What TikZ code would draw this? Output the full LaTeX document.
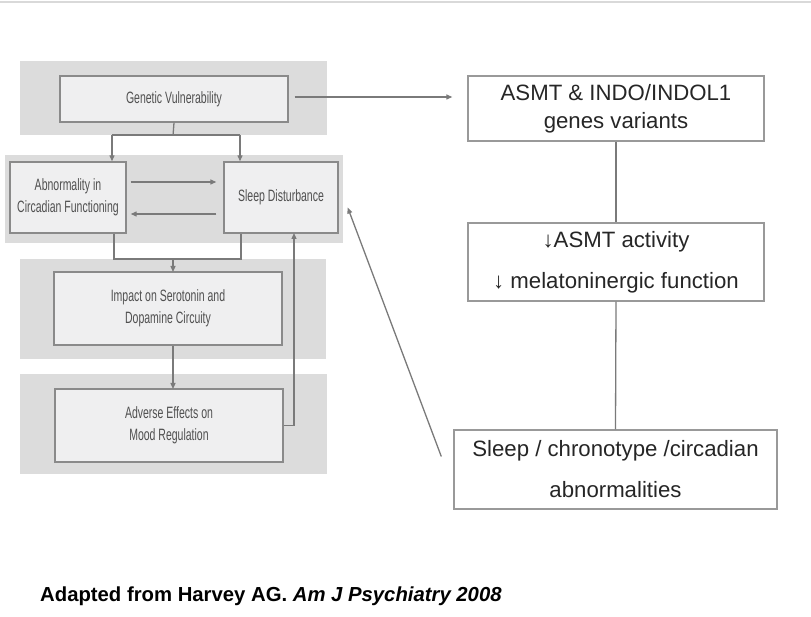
\documentclass[tikz,border=0pt]{standalone}
\usepackage{fontspec}
\setmainfont{Liberation Sans}
\newfontfamily\condfont[FakeStretch=0.64]{Liberation Sans}
\usetikzlibrary{arrows.meta,calc}
\definecolor{bandgray}{HTML}{DCDCDC}
\definecolor{boxfill}{HTML}{EFEFF0}
\definecolor{boxline}{HTML}{8A8A8A}
\definecolor{linegray}{HTML}{7A7A7A}
\definecolor{txtgray}{HTML}{505050}
\definecolor{rline}{HTML}{999999}
\tikzset{
  band/.style={fill=bandgray,draw=none},
  lbox/.style={draw=boxline,fill=boxfill,line width=1.4pt,inner sep=0pt,align=center,
    text=txtgray,font=\condfont\fontsize{16.4}{22}\selectfont},
  rbox/.style={draw=rline,fill=white,line width=1.4pt,inner sep=0pt,align=center,
    text=black!85,font=\fontsize{22.2}{28}\selectfont},
  conn/.style={draw=linegray,line width=1.3pt},
  arr/.style={conn,-{Triangle[length=6pt,width=5pt]}},
}
\begin{document}
\begin{tikzpicture}[x=1pt,y=-1pt]
\useasboundingbox (0,0) rectangle (811,617);
\fill[white] (0,0) rectangle (811,617);
\draw[black!15,line width=2pt] (0,2) -- (811,2);
% bands
\fill[band] (20,61) rectangle (327,135);
\fill[band] (5,155) rectangle (343,243);
\fill[band] (20,259) rectangle (326,359);
\fill[band] (20,374) rectangle (327,474);
% left boxes
\node[lbox,minimum width=228pt,minimum height=46pt] (gen) at (174,99) {Genetic Vulnerability};
\node[lbox,minimum width=116pt,minimum height=71pt] (abn) at (68,197.5) {Abnormality in\\Circadian Functioning};
\node[lbox,minimum width=114pt,minimum height=71pt] (slp) at (281,197.5) {Sleep Disturbance};
\node[lbox,minimum width=228pt,minimum height=73pt] (imp) at (168,308.5) {Impact on Serotonin and\\Dopamine Circuity};
\node[lbox,minimum width=228pt,minimum height=73pt] (adv) at (169,425.5) {Adverse Effects on\\Mood Regulation};
% right boxes
\node[rbox,minimum width=296pt,minimum height=65pt] (asmt) at (616,108.5) {ASMT \& INDO/INDOL1\\genes variants};
\node[rbox,minimum width=296pt,minimum height=78pt,font=\fontsize{22.2}{41}\selectfont] (mel) at (616,262) {↓ASMT activity\\↓ melatoninergic function};
\node[rbox,minimum width=323pt,minimum height=79pt,font=\fontsize{22.2}{41}\selectfont] (slc) at (615.5,469.5) {Sleep / chronotype /circadian\\abnormalities};
% caption
\node[anchor=base west,inner sep=0pt,font=\bfseries\fontsize{20.3}{24}\selectfont] (cap) at (40,601)
  {Adapted from Harvey AG. \textit{Am J Psychiatry 2008}};
% connectors left
\coordinate (g1) at ($(gen.south)+(-1,13)$);
\draw[conn] (gen.south) -- (g1);
\coordinate (ga) at (112,135);
\coordinate (gs) at (240,135);
\draw[conn] (ga) -- (gs);
\draw[arr] (ga) -- (ga |- abn.north);
\draw[arr] (gs) -- (gs |- slp.north);
\draw[arr] ($(abn.east)+(4,-15.5)$) -- ($(slp.west)+(-7,-15.5)$);
\draw[arr] ($(slp.west)+(-7,16.5)$) -- ($(abn.east)+(4,16.5)$);
\coordinate (ab) at (114,259);
\coordinate (sb) at (241,259);
\draw[conn] (ab |- abn.south) -- (ab) -- (sb) -- (sb |- slp.south);
\draw[arr] (173,259) -- (173,272);
\draw[arr] (imp.south -| 173,0) -- (173,389);
\draw[arr] (adv.east) -- (294,425.5) -- (294 ,233);
% connectors right
\draw[arr] ($(gen.east)+(6,-2)$) -- ($(asmt.west)+(-15,-11.5)$);
\draw[conn] (asmt.south) -- (mel.north);
\draw[conn] (mel.south) -- (slc.north);
\draw[arr] ($(slc.west)+(-12,-13)$) -- ($(slp.east)+(9,10)$);
\end{tikzpicture}
\end{document}
